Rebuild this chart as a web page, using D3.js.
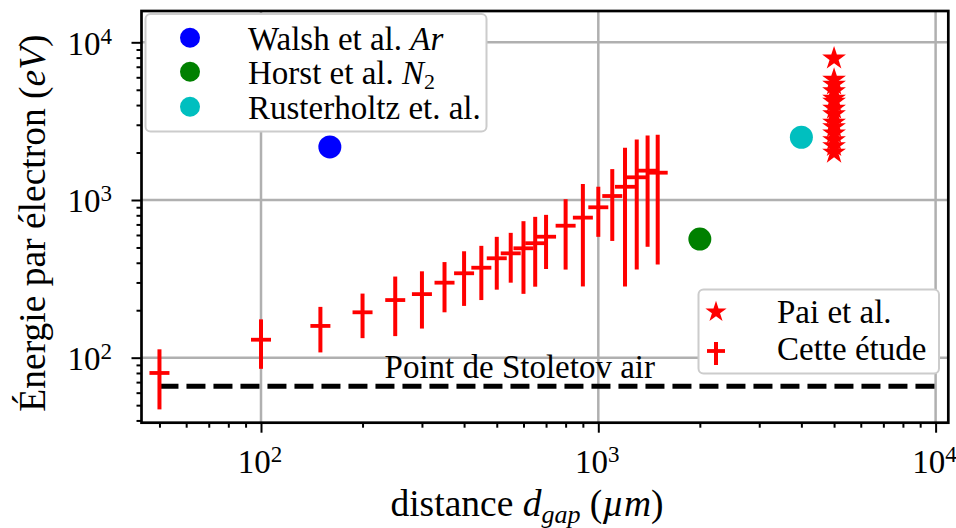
<!DOCTYPE html>
<html><head><meta charset="utf-8">
<script src="https://cdn.jsdelivr.net/npm/d3@7"></script>
<style>
body{margin:0;background:#fff}
svg{display:block}
text{font-family:"Liberation Serif","Times New Roman",serif;fill:#000}
</style>
</head><body>
<svg id="chart" width="956" height="528"></svg>
<script>
// ---- data ----
const gapUm    = [50,100,150,200,250,300,350,400,450,500,550,600,650,700,800,900,1000,1100,1200,1300,1400,1500];
const energyEv = [80,130,159,194,232,253,299,343,372,427,459,494,532,585,687,773,899,1060,1213,1393,1535,1490];
const energyErr= [33,45,51,61,95,100,105,130,140,157,160,240,250,220,325,490,315,510,930,1030,1030,1100];
const walshX = [160],  walshY = [2170];
const horstX = [2000], horstY = [565];
const rusterX = [4000], rusterY = [2500];
const paiX = 5000;
const paiY = [7900,5800,5400,4900,4400,4200,3800,3500,3100,2900,2650,2400,2200,2000];
const stoletovEv = 66;
const xTickExp = [2,3,4];
const yTickExp = [2,3,4];
const legend1Labels = ["Walsh et al. ", "Horst et al. ", "Rusterholtz et. al."];
const legend2Labels = ["Pai et al.", "Cette étude"];

// ---- layout ----
const m = {l:141.5, r:948.3, t:11, b:422.7};
const x = d3.scaleLog().domain([44.23, 10905]).range([m.l, m.r]);
const y = d3.scaleLog().domain([38.7, 15797]).range([m.b, m.t]);
const svg = d3.select('#chart');
const RED = '#ff0000';

const majorX = xTickExp.map(e => Math.pow(10, e));
const majorY = yTickExp.map(e => Math.pow(10, e));
function minors(lo, hi){
  const out=[];
  for(let e=1;e<=4;e++) for(let k=2;k<=9;k++){const v=k*Math.pow(10,e); if(v>=lo&&v<=hi) out.push(v);}
  return out;
}
const minorX = minors(44.23, 10905);
const minorY = minors(38.7, 15797);

// grid
const grid = svg.append('g');
grid.selectAll('.gx').data(majorX).join('line')
  .attr('x1', d=>x(d)).attr('x2', d=>x(d)).attr('y1', m.t).attr('y2', m.b)
  .attr('stroke', '#b0b0b0').attr('stroke-width', 2.5);
grid.selectAll('.gy').data(majorY).join('line').attr('class','gy')
  .attr('y1', d=>y(d)).attr('y2', d=>y(d)).attr('x1', m.l).attr('x2', m.r)
  .attr('stroke', '#b0b0b0').attr('stroke-width', 2.5);

// Stoletov line
svg.append('line')
  .attr('x1', x(50)).attr('x2', x(10000))
  .attr('y1', y(stoletovEv)).attr('y2', y(stoletovEv))
  .attr('stroke', '#000').attr('stroke-width', 5).attr('stroke-dasharray', '19,8');
svg.append('text')
  .attr('x', x(585)).attr('y', y(stoletovEv * 1.125))
  .attr('text-anchor', 'middle').attr('font-size', 33)
  .text('Point de Stoletov air');

// error bars (Cette étude)
const eb = svg.append('g');
eb.selectAll('.v').data(gapUm).join('line')
  .attr('x1', d=>x(d)).attr('x2', d=>x(d))
  .attr('y1', (d,i)=>y(energyEv[i]-energyErr[i]))
  .attr('y2', (d,i)=>y(energyEv[i]+energyErr[i]))
  .attr('stroke', RED).attr('stroke-width', 4);
eb.selectAll('.h').data(gapUm).join('line').attr('class','h')
  .attr('x1', d=>x(d)-10).attr('x2', d=>x(d)+10)
  .attr('y1', (d,i)=>y(energyEv[i])).attr('y2', (d,i)=>y(energyEv[i]))
  .attr('stroke', RED).attr('stroke-width', 3.8);

// points
function dots(xs, ys, color){
  svg.append('g').selectAll('circle').data(xs).join('circle')
    .attr('cx', d=>x(d)).attr('cy', (d,i)=>y(ys[i])).attr('r', 11.5).attr('fill', color);
}
dots(walshX, walshY, '#0000ff');
dots(horstX, horstY, '#008000');
dots(rusterX, rusterY, '#00bfbf');

const star = d3.symbol(d3.symbolStar, 175);
svg.append('g').selectAll('path').data(paiY).join('path')
  .attr('d', star).attr('transform', d=>`translate(${x(paiX)},${y(d)})`).attr('fill', RED);

// axes ticks
const gxMaj = svg.append('g').attr('transform', `translate(0,${m.b})`)
  .call(d3.axisBottom(x).tickValues(majorX).tickSize(10).tickFormat(''));
const gxMin = svg.append('g').attr('transform', `translate(0,${m.b})`)
  .call(d3.axisBottom(x).tickValues(minorX).tickSize(5).tickFormat(''));
const gyMaj = svg.append('g').attr('transform', `translate(${m.l},0)`)
  .call(d3.axisLeft(y).tickValues(majorY).tickSize(10).tickFormat(''));
const gyMin = svg.append('g').attr('transform', `translate(${m.l},0)`)
  .call(d3.axisLeft(y).tickValues(minorY).tickSize(5).tickFormat(''));
[gxMaj,gxMin,gyMaj,gyMin].forEach(g=>{
  g.select('.domain').remove();
  g.selectAll('line').attr('stroke','#000').attr('stroke-width',2);
});

// tick labels
xTickExp.forEach(e=>{
  const t = svg.append('text').attr('x', x(Math.pow(10,e))-1).attr('y', 472.7)
    .attr('text-anchor','middle').attr('font-size',33);
  t.append('tspan').text('10');
  t.append('tspan').attr('dy',-11).attr('font-size',23).text(e);
});
yTickExp.forEach(e=>{
  const t = svg.append('text').attr('x', 112).attr('y', y(Math.pow(10,e))+12.5)
    .attr('text-anchor','end').attr('font-size',33);
  t.append('tspan').text('10');
  t.append('tspan').attr('dy',-11).attr('font-size',23).text(e);
});

// axis labels
const xl = svg.append('text').attr('x', 527).attr('y', 516).attr('text-anchor','middle').attr('font-size',37.5);
xl.append('tspan').text('distance ');
xl.append('tspan').attr('font-style','italic').text('d');
xl.append('tspan').attr('font-style','italic').attr('font-size',26).attr('dy',7).text('gap');
xl.append('tspan').attr('dy',-7).text(' (');
xl.append('tspan').attr('font-style','italic').text('µm');
xl.append('tspan').text(')');

const yl = svg.append('text').attr('transform','translate(45,223) rotate(-90)')
  .attr('text-anchor','middle').attr('font-size',37.5);
yl.append('tspan').text('Énergie par électron (');
yl.append('tspan').attr('font-style','italic').text('eV');
yl.append('tspan').text(')');

// spines
svg.append('rect').attr('x', m.l).attr('y', m.t).attr('width', m.r-m.l).attr('height', m.b-m.t)
  .attr('fill','none').attr('stroke','#000').attr('stroke-width',2.7);

// legend 1
const L1 = svg.append('g');
L1.append('rect').attr('x',145.5).attr('y',14).attr('width',341).attr('height',117.5).attr('rx',5)
  .attr('fill','#fff').attr('stroke','#cccccc').attr('stroke-width',2);
const l1Colors = ['#0000ff','#008000','#00bfbf'];
const l1Rows = [37.7, 71.7, 106.7];
l1Rows.forEach((cy,i)=>{
  L1.append('circle').attr('cx',190).attr('cy',cy).attr('r',10).attr('fill',l1Colors[i]);
  const t = L1.append('text').attr('x',248).attr('y',cy+12).attr('font-size',33);
  t.append('tspan').text(legend1Labels[i]);
  if(i===0){ t.append('tspan').attr('font-style','italic').text('Ar'); }
  if(i===1){ t.append('tspan').attr('font-style','italic').text('N');
             t.append('tspan').attr('font-size',22).attr('dy',5).text('2'); }
});

// legend 2
const L2 = svg.append('g');
L2.append('rect').attr('x',698.5).attr('y',289.5).attr('width',240.5).attr('height',84).attr('rx',5)
  .attr('fill','#fff').attr('stroke','#cccccc').attr('stroke-width',2);
L2.append('path').attr('d', d3.symbol(d3.symbolStar, 140)).attr('transform','translate(716,312)').attr('fill',RED);
L2.append('line').attr('x1',716).attr('x2',716).attr('y1',342).attr('y2',365).attr('stroke',RED).attr('stroke-width',4);
L2.append('line').attr('x1',707).attr('x2',725).attr('y1',351).attr('y2',351).attr('stroke',RED).attr('stroke-width',3.8);
L2.append('text').attr('x',777).attr('y',322.7).attr('font-size',33).text(legend2Labels[0]);
L2.append('text').attr('x',777).attr('y',360).attr('font-size',33).text(legend2Labels[1]);
</script>
</body></html>
